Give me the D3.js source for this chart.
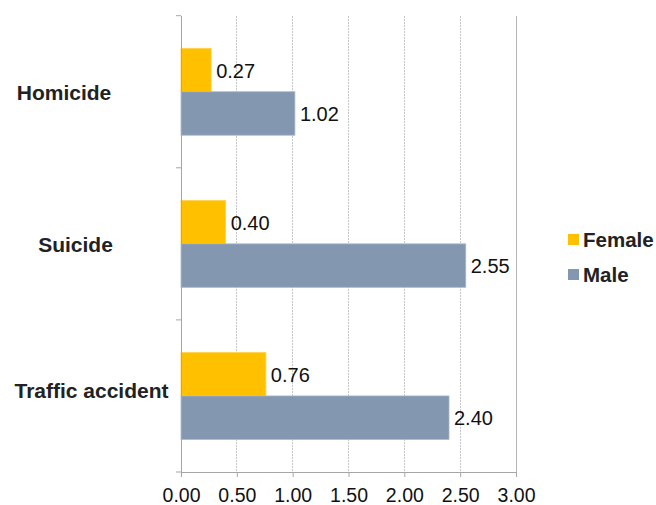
<!DOCTYPE html>
<html><head><meta charset="utf-8">
<script src="https://cdn.jsdelivr.net/npm/d3@7"></script>
<style>
body{margin:0;background:#fff;}
svg{display:block;font-family:"Liberation Sans",Arial,sans-serif;}
</style></head>
<body>
<svg id="chart" width="656" height="505"></svg>
<script>
const categories = ["Homicide", "Suicide", "Traffic accident"];
const seriesNames = ["Female", "Male"];
const female = [0.27, 0.40, 0.76];
const male = [1.02, 2.55, 2.40];
const xTicks = [0, 0.5, 1, 1.5, 2, 2.5, 3];

const colors = {Female: "#FFC000", Male: "#8497B0"};
const strokes = {Female: "#FFD34D", Male: "#A9B7C9"};
// label placement (layout only)
const labelLayout = {"Homicide": {cx: 64, dy: 8}, "Suicide": {cx: 75.5, dy: 8}, "Traffic accident": {cx: 91.5, dy: 2}};

const svg = d3.select("#chart");
const mLeft = 181, mRight = 516, mTop = 15.7, mBottom = 472;

const x = d3.scaleLinear().domain([0, 3]).range([mLeft, mRight]);
const y = d3.scaleBand().domain(categories).range([mTop, mBottom]).padding(0);
const ys = d3.scaleBand().domain(seriesNames).range([0, y.bandwidth()]).paddingInner(0).paddingOuter(0.75);

// gridlines
svg.append("g").selectAll("line").data(xTicks.filter(t => t > 0)).join("line")
  .attr("x1", d => x(d)).attr("x2", d => x(d))
  .attr("y1", mTop).attr("y2", mBottom)
  .attr("stroke", d => d === 3 ? "#b5b5b5" : "#c8c8c8")
  .attr("stroke-width", 1)
  .attr("stroke-dasharray", d => d === 3 ? null : "2,1")
  .attr("shape-rendering", "crispEdges");

const data = categories.map((c, i) => ({cat: c, vals: [{s: "Female", v: female[i]}, {s: "Male", v: male[i]}]}));

const groups = svg.append("g").selectAll("g").data(data).join("g")
  .attr("transform", d => `translate(0,${y(d.cat)})`);

groups.selectAll("rect").data(d => d.vals).join("rect")
  .attr("x", x(0))
  .attr("y", d => ys(d.s))
  .attr("width", d => x(d.v) - x(0))
  .attr("height", ys.bandwidth())
  .attr("fill", d => colors[d.s])
  .attr("stroke", d => strokes[d.s])
  .attr("stroke-width", 0.8);

groups.selectAll("text.val").data(d => d.vals).join("text")
  .attr("class", "val")
  .attr("x", d => x(d.v) + 5)
  .attr("y", d => ys(d.s) + ys.bandwidth() / 2 + 7.5)
  .attr("font-size", "20px")
  .attr("fill", "#111")
  .text(d => d3.format(".2f")(d.v));

// axes
const axisColor = "#a6a6a6";
const gx = svg.append("g").attr("transform", `translate(0,${mBottom})`)
  .call(d3.axisBottom(x).tickValues(xTicks).tickFormat(d3.format(".2f")).tickSize(5).tickSizeOuter(0));
gx.select(".domain").attr("stroke", axisColor);
gx.selectAll(".tick line").attr("stroke", axisColor);
gx.selectAll(".tick text").attr("font-size", "19.5px").attr("fill", "#111")
  .attr("font-family", "Liberation Sans, Arial, sans-serif").attr("dy", "0").attr("y", 30);

// left axis with ticks at band boundaries
const boundaries = categories.map(c => y(c)).concat([mBottom]);
svg.append("line").attr("x1", mLeft).attr("x2", mLeft).attr("y1", mTop).attr("y2", mBottom)
  .attr("stroke", axisColor).attr("shape-rendering", "crispEdges");
svg.append("g").selectAll("line").data(boundaries).join("line")
  .attr("x1", mLeft - 5).attr("x2", mLeft)
  .attr("y1", d => d).attr("y2", d => d)
  .attr("stroke", axisColor);

// category labels
svg.append("g").selectAll("text").data(categories).join("text")
  .attr("x", d => labelLayout[d].cx)
  .attr("y", d => y(d) + y.bandwidth() / 2 + labelLayout[d].dy)
  .attr("text-anchor", "middle")
  .attr("font-size", "21px").attr("font-weight", "bold").attr("fill", "#222")
  .text(d => d);

// legend
const legend = svg.append("g").attr("transform", "translate(568,234)");
const li = legend.selectAll("g").data(seriesNames).join("g")
  .attr("transform", (d, i) => `translate(0,${i * 35})`);
li.append("rect").attr("width", 11).attr("height", 11).attr("fill", d => colors[d]);
li.append("text").attr("x", 15).attr("y", 12.5)
  .attr("font-size", "20.5px").attr("font-weight", "bold").attr("fill", "#222")
  .text(d => d);
</script>
</body></html>
